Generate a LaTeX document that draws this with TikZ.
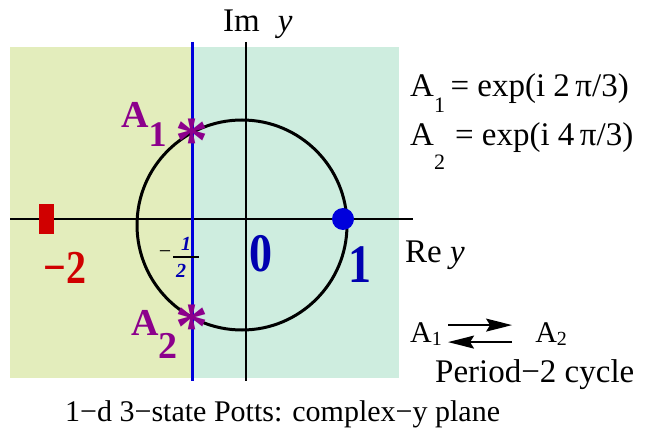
\documentclass[tikz,border=0pt]{standalone}
\usepackage{fontspec}
\setmainfont{Liberation Serif}
\usetikzlibrary{arrows.meta,positioning}
\definecolor{leftzone}{HTML}{E3EDBC}
\definecolor{rightzone}{HTML}{CEEDDF}
\definecolor{potpurple}{HTML}{8C008C}
\definecolor{potblue}{HTML}{0000B0}
\definecolor{linblue}{HTML}{0000DC}
\definecolor{potred}{HTML}{D00000}
\newcommand{\fsz}[1]{\fontsize{#1}{#1}\selectfont}
\newcommand{\tallnum}[1]{\scalebox{1}[1.18]{\textbf{#1}}}
\tikzset{
  axis/.style={line width=1.4pt, draw=black},
  txt/.style={anchor=base west, inner sep=0pt, font=\fsz{33}},
  bignum/.style={text=#1, inner sep=0pt, font=\fsz{46}},
  halfdig/.style={text=potblue, inner sep=0pt, font=\fsz{20}\bfseries\itshape},
  rootmark/.style={text=potpurple, inner sep=0pt, font=\fsz{66}\bfseries, yshift=-9pt},
  rootlbl/.style={anchor=base west, inner sep=0pt, text=potpurple, font=\fsz{38}\bfseries},
  cyclbl/.style={anchor=base west, inner sep=0pt, font=\fsz{30}},
  cyc/.style={-{Stealth[length=26pt,width=13pt,inset=4pt]}, line width=1.7pt},
}

\begin{document}
\begin{tikzpicture}[x=1pt,y=-1pt]
  \useasboundingbox (0,0) rectangle (655,430);
  % the two half planes, split at Re y = -1/2
  \fill[leftzone] (10,47) rectangle (192,378);
  \fill[rightzone] (192,47) rectangle (399,378);
  \draw[axis] (10,219) -- (413,219);
  \draw[axis] (246,42) -- (246,381);
  \draw[line width=3pt] (242,225) circle (105pt);
  \draw[linblue, line width=3pt] (192,42) -- (192,381);

  % fixed points
  \node[circle, fill=linblue, minimum size=22pt, inner sep=0pt] (one) at (343,219) {};
  \node[rectangle, fill=potred, minimum width=15pt, minimum height=30pt, inner sep=0pt] (mtwo) at (46.5,219) {};
  \node[rootmark] (a1star) at (192,132) {\makebox[0pt]{*}};
  \node[rootmark] (a2star) at (192,318) {\makebox[0pt]{*}};

  % axis labels
  \node[txt] (imy) at (223,32) {Im\hspace{18pt}\textit{y}};
  \node[txt] (rey) at (405,262) {Re \textit{y}};

  % values on the real axis
  \node[bignum=potred, font=\fsz{40}] (lblmtwo) at (65,268) {\tallnum{−2}};
  \node[bignum=potblue] (lblzero) at (261,254) {\tallnum{0}};
  \node[bignum=potblue] (lblone) at (360,265) {\tallnum{1}};
  \node[inner sep=0pt, font=\fsz{22}] (halfminus) at (165,255) {−};
  \node[halfdig] (halfnum) at (186,244) {1};
  \node[halfdig] (halfden) at (181,271) {2};
  \draw[line width=2pt] (173,257) -- (199,257);

  % the two complex roots
  \node[rootlbl] (a1lbl) at (121,128) {A\raisebox{-19pt}{\fsz{36}1}};
  \node[rootlbl] (a2lbl) at (131,335) {A\raisebox{-23pt}{\fsz{38}2}};

  \node[txt] (eqone) at (410,97) {A\raisebox{-16pt}{\fsz{22}1}\,= exp(i 2\,π/3)};
  \node[txt] (eqtwo) at (410,146) {A\raisebox{-24pt}{\fsz{22}2}\hspace{10pt}= exp(i 4\,π/3)};

  % period-2 cycle
  \node[cyclbl] (a1) at (410,342) {A\raisebox{-3pt}{\fsz{20}1}};
  \node[cyclbl, right=93pt of a1] (a2) {A\raisebox{-3pt}{\fsz{20}2}};
  \draw[cyc] ([xshift=6pt,yshift=8.5pt]a1.east) -- ([xshift=-23pt,yshift=8.5pt]a2.west);
  \draw[cyc] ([xshift=-23pt,yshift=-8.5pt]a2.west) -- ([xshift=6pt,yshift=-8.5pt]a1.east);
  \node[txt] (cyctxt) at (435,382) {Period−2 cycle};

  \node[anchor=base west, inner sep=0pt, font=\fsz{30}] (caption) at (65,421)
    {1−d 3−state Potts: complex−y plane};
\end{tikzpicture}
\end{document}
